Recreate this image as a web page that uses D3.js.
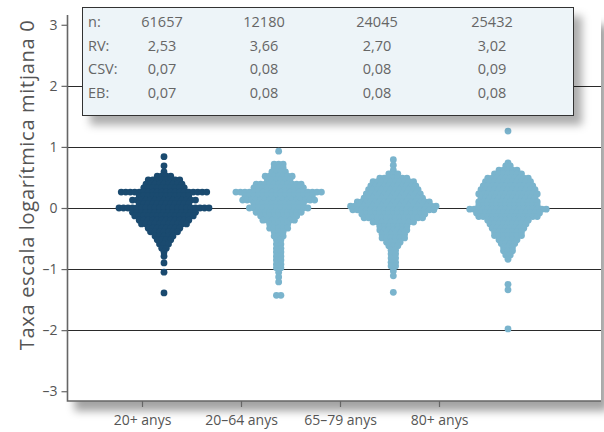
<!DOCTYPE html>
<html>
<head>
<meta charset="utf-8">
<script src="https://cdn.jsdelivr.net/npm/d3@7"></script>
<style>
  body { margin: 0; background: #fff; }
  svg { display: block; font-family: "Open Sans", sans-serif; }
</style>
</head>
<body>
<svg id="chart" width="604" height="432"></svg>
<script>
// ---- data ----
const categories = ["20+ anys", "20–64 anys", "65–79 anys", "80+ anys"];
const yTicks = [-3, -2, -1, 0, 1, 2, 3];
const gridValues = [-2, -1, 0, 1, 2];

const statLabels = ["n:", "RV:", "CSV:", "EB:"];
const statN   = ["61657", "12180", "24045", "25432"];
const statRV  = ["2,53", "3,66", "2,70", "3,02"];
const statCSV = ["0,07", "0,08", "0,08", "0,09"];
const statEB  = ["0,07", "0,08", "0,08", "0,08"];

// swarm rows: [log rate, number of areas with that value]
const swarmAll = [
  [0.84, 1], [0.69, 1], [0.59, 1], [0.52, 4], [0.46, 8], [0.39, 9], [0.33, 10],
  [0.26, 20], [0.20, 12], [0.13, 15], [0.07, 12], [0.00, 21], [-0.07, 15],
  [-0.13, 14], [-0.20, 12], [-0.26, 11], [-0.33, 8], [-0.39, 7], [-0.46, 5],
  [-0.52, 4], [-0.59, 3], [-0.66, 2], [-0.72, 1], [-0.79, 1], [-0.90, 1],
  [-1.05, 1], [-1.39, 1]
];
const swarm20to64 = [
  [0.93, 1], [0.72, 3], [0.66, 3], [0.59, 4], [0.52, 7], [0.46, 6], [0.39, 11],
  [0.33, 12], [0.26, 20], [0.20, 16], [0.13, 17], [0.07, 12], [0.00, 14],
  [-0.07, 11], [-0.13, 9], [-0.20, 8], [-0.26, 5], [-0.33, 5], [-0.39, 3],
  [-0.46, 3], [-0.52, 2], [-0.59, 2], [-0.66, 2], [-0.72, 2], [-0.79, 2],
  [-0.85, 2], [-0.92, 2], [-0.98, 2], [-1.05, 1], [-1.13, 1], [-1.21, 1],
  [-1.43, 2]
];
const swarm65to79 = [
  [0.79, 1], [0.70, 1], [0.62, 1], [0.56, 3], [0.49, 7], [0.43, 10], [0.36, 11],
  [0.30, 12], [0.23, 13], [0.16, 14], [0.10, 17], [0.03, 20], [-0.03, 19],
  [-0.10, 15], [-0.16, 14], [-0.23, 10], [-0.30, 7], [-0.36, 7], [-0.43, 6],
  [-0.49, 6], [-0.56, 4], [-0.62, 3], [-0.69, 2], [-0.75, 2], [-0.82, 2],
  [-0.89, 2], [-0.95, 2], [-1.03, 1], [-1.11, 1], [-1.38, 1]
];
const swarm80plus = [
  [1.26, 1], [0.74, 1], [0.69, 2], [0.62, 5], [0.56, 7], [0.49, 10], [0.43, 11],
  [0.36, 12], [0.30, 13], [0.23, 14], [0.16, 13], [0.10, 14], [0.04, 14],
  [-0.02, 18], [-0.08, 15], [-0.14, 14], [-0.20, 10], [-0.26, 9], [-0.33, 8],
  [-0.39, 7], [-0.45, 7], [-0.52, 5], [-0.58, 4], [-0.64, 3], [-0.70, 3],
  [-0.77, 2], [-0.84, 1], [-1.25, 1], [-1.34, 1], [-1.98, 1]
];
const swarms = [swarmAll, swarm20to64, swarm65to79, swarm80plus];
const swarmColors = ["#1a4a6f", "#7ab4cd", "#7ab4cd", "#7ab4cd"];

// ---- layout ----
const svg = d3.select("#chart");
const plot = { left: 67.5, right: 601, top: 15, bottom: 401 };

const y = d3.scaleLinear().domain([-3.16, 3.16]).range([plot.bottom, plot.top]);
const xAxisScale = d3.scalePoint().domain(categories).range([142, 439]);
const xSwarm = d3.scalePoint().domain(categories).range([164, 508]);
const xStat = d3.scaleOrdinal().domain(categories).range([162, 264, 377, 492]);

const dotR = 3.4;
const dotStep = 4.5;

// drop shadows
const defs = svg.append("defs");
function shadow(id, dx, dy, blur, opacity) {
  const f = defs.append("filter").attr("id", id)
    .attr("x", "-10%").attr("y", "-10%").attr("width", "130%").attr("height", "140%");
  f.append("feGaussianBlur").attr("in", "SourceAlpha").attr("stdDeviation", blur);
  f.append("feOffset").attr("dx", dx).attr("dy", dy).attr("result", "off");
  f.append("feFlood").attr("flood-color", "#000").attr("flood-opacity", opacity);
  f.append("feComposite").attr("in2", "off").attr("operator", "in");
  const m = f.append("feMerge");
  m.append("feMergeNode");
  m.append("feMergeNode").attr("in", "SourceGraphic");
}
shadow("plotShadow", 7, 10, 4.5, 0.36);
shadow("boxShadow", 8, 9, 4.5, 0.32);

// plot panel
svg.append("rect")
  .attr("x", plot.left).attr("y", plot.top)
  .attr("width", plot.right - plot.left).attr("height", plot.bottom - plot.top)
  .attr("fill", "#fff").attr("filter", "url(#plotShadow)");

// gridlines
svg.append("g").selectAll("line").data(gridValues).join("line")
  .attr("x1", plot.left).attr("x2", plot.right)
  .attr("y1", d => Math.round(y(d)) + 0.5).attr("y2", d => Math.round(y(d)) + 0.5)
  .attr("stroke", "#2a2a2a").attr("stroke-width", 1);

// beeswarms
const dots = [];
categories.forEach((c, gi) => {
  swarms[gi].forEach(([v, n]) => {
    for (let i = 0; i < n; i++) {
      dots.push({ cat: c, v, off: (i - (n - 1) / 2) * dotStep, color: swarmColors[gi] });
    }
  });
});
svg.append("g").selectAll("circle").data(dots).join("circle")
  .attr("cx", d => xSwarm(d.cat) + d.off)
  .attr("cy", d => y(d.v))
  .attr("r", dotR)
  .attr("fill", d => d.color);

// statistics box
svg.append("rect")
  .attr("x", 82.5).attr("y", 7.5).attr("width", 491).attr("height", 108)
  .attr("fill", "#edf4f8").attr("stroke", "#333").attr("stroke-width", 1)
  .attr("filter", "url(#boxShadow)");

const statRows = [statN, statRV, statCSV, statEB];
const rowY = d3.scalePoint().domain(statLabels).range([27, 98]);
const statG = svg.append("g").attr("font-size", 14.5).attr("fill", "#666");
statLabels.forEach((lab, ri) => {
  statG.append("text").attr("x", 88).attr("y", rowY(lab)).text(lab);
  statG.selectAll(null).data(statRows[ri]).join("text")
    .attr("x", (d, i) => xStat(categories[i]))
    .attr("y", rowY(lab))
    .attr("text-anchor", "middle")
    .text(d => d);
});

// axes
const fmt = d => (d < 0 ? "–" + Math.abs(d) : String(d));
const yAxis = svg.append("g")
  .attr("transform", `translate(${plot.left},0)`)
  .call(d3.axisLeft(y).tickValues(yTicks).tickFormat(fmt).tickSize(6).tickSizeOuter(0).tickPadding(4));
yAxis.select(".domain").remove();
yAxis.selectAll(".tick line").attr("stroke", "#666").attr("stroke-width", 1.2);
yAxis.selectAll(".tick text").attr("font-size", 14).attr("fill", "#555")
  .attr("font-family", "Open Sans, sans-serif");

const xAxis = svg.append("g")
  .attr("transform", `translate(0,${plot.bottom})`)
  .call(d3.axisBottom(xAxisScale).tickSize(6).tickSizeOuter(0).tickPadding(8));
xAxis.select(".domain").remove();
xAxis.selectAll(".tick line").attr("stroke", "#666").attr("stroke-width", 1.2);
xAxis.selectAll(".tick text").attr("font-size", 14).attr("fill", "#555")
  .attr("font-family", "Open Sans, sans-serif");

// axis lines
svg.append("path")
  .attr("d", `M${plot.left},${plot.top}V${plot.bottom}H${plot.right}`)
  .attr("fill", "none").attr("stroke", "#666").attr("stroke-width", 1.6);

// y title
svg.append("text")
  .attr("transform", `translate(34,185) rotate(-90)`)
  .attr("text-anchor", "middle")
  .attr("font-size", 20).attr("letter-spacing", 0.7).attr("fill", "#555")
  .text("Taxa escala logarítmica mitjana 0");
</script>
</body>
</html>
